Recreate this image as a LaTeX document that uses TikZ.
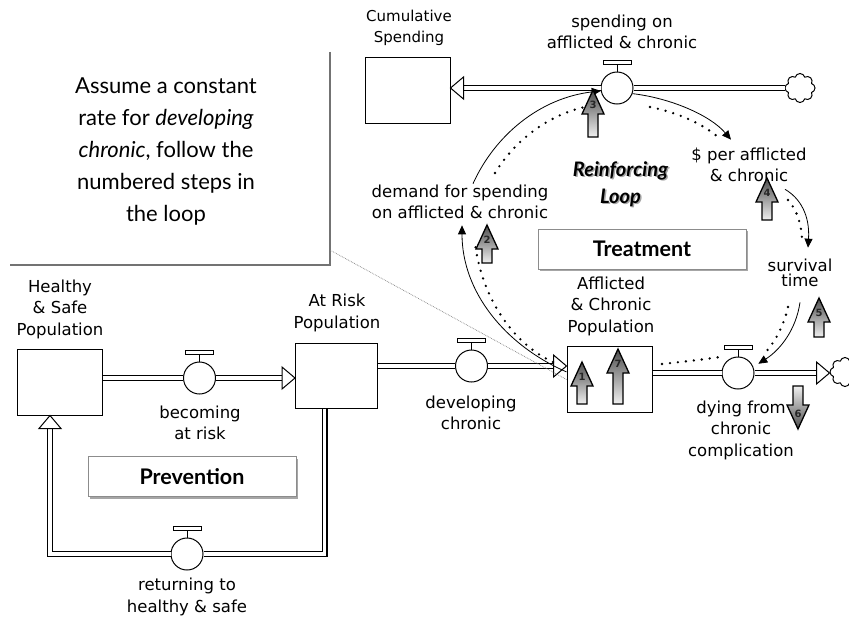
\documentclass[tikz,border=0pt]{standalone}
\usepackage{fontspec}
\setmainfont{DejaVu Sans}
\newfontfamily\gill{Lato}
\usetikzlibrary{calc,shapes.symbols,shadows,arrows.meta}
\begin{document}
\begin{tikzpicture}[x=1pt,y=-1pt,
  lbl/.style={font=\fontsize{16.5}{21.5}\selectfont, align=center, inner sep=1pt},
  stock/.style={draw, line width=1pt, fill=white, minimum width=85pt, minimum height=66pt, inner sep=0},
  valve/.style={draw, circle, line width=1pt, fill=white, minimum size=32pt, inner sep=0},
  pipe/.style={draw, line width=1.2pt, double=white, double distance=3.6pt, line join=miter},
  pipehead/.style={draw, line width=1pt, fill=white, line join=miter},
  link/.style={draw, line width=0.8pt, -{Triangle[length=9pt,width=8pt]}},
  loopdots/.style={draw, line width=2.6pt, line cap=round, dash pattern=on 0pt off 8pt},
  labelbox/.style={draw=black!45, line width=0.8pt, fill=white, minimum width=208pt, minimum height=40pt,
     font=\gill\bfseries\fontsize{21.5}{24}\selectfont,
     drop shadow={shadow xshift=2pt, shadow yshift=-2pt, opacity=0.35, fill=black}},
  cloudy/.style={draw, cloud, cloud puffs=8, aspect=1.05, line width=1pt, fill=white, minimum width=30pt, minimum height=29pt, inner sep=0},
  numtxt/.style={font=\bfseries\fontsize{10}{10}\selectfont, text=black!85, inner sep=0},
  pics/stepup/.style 2 args={code={
    \draw[line width=1.3pt, top color=black!70, bottom color=black!6]
      (-5,0) -- (-5,{-(#1-24)}) -- (-11,{-(#1-24)}) -- (0,-#1) -- (11,{-(#1-24)}) -- (5,{-(#1-24)}) -- (5,0) -- cycle;
    \node[numtxt] (-n) at (0,{-(#1-15)}) {#2};
  }},
  pics/stepdown/.style 2 args={code={
    \draw[line width=1.3pt, top color=black!6, bottom color=black!70]
      (-5,0) -- (-5,{#1-24}) -- (-11,{#1-24}) -- (0,#1) -- (11,{#1-24}) -- (5,{#1-24}) -- (5,0) -- cycle;
    \node[numtxt] (-n) at (0,{#1-15}) {#2};
  }},
]
\path[use as bounding box, fill=white] (0,0) rectangle (849,619);

% note box
\path node[minimum width=328pt, minimum height=213pt, inner sep=0] (note) at (166,158.5) {};
\draw[black!55, line width=2.5pt] (note.north east) -- (note.south east) -- ($(note.south west)+(8,0)$);
\node[align=center, font=\gill\fontsize{22}{32}\selectfont, inner sep=0] (ntext) at (166,151)
  {Assume a constant\\rate for \textit{developing}\\\textit{chronic}, follow the\\numbered steps in\\the loop};

% stocks
\node[stock] (cs) at (407.5,90.5) {};
\node[lbl, font=\fontsize{15}{21}\selectfont] (csl) at (409,28) {Cumulative\\Spending};
\node[stock] (hs) at (59.5,382) {};
\node[lbl] (hsl) at (60,309) {Healthy\\\& Safe\\Population};
\node[stock, minimum width=82pt, minimum height=65pt] (ar) at (336.5,375.5) {};
\node[lbl] (arl) at (337,313) {At Risk\\Population};
\node[stock] (aff) at (609.5,379.5) {};
\node[lbl] (affl) at (611,306) {Afflicted\\\& Chronic\\Population};

% valves
\node[valve] (vsp) at (617,88) {};
\node[lbl] (vspl) at (622,32) {spending on\\afflicted \& chronic};
\node[valve] (vb) at (199.5,378) {};
\node[lbl] (vbl) at (200,423) {becoming\\at risk};
\node[valve] (vd) at (471.5,366) {};
\node[lbl] (vdl) at (471,413) {developing\\chronic};
\node[valve] (vdy) at (738,373) {};
\node[lbl] (vdyl) at (741,430) {dying from\\chronic\\complication};
\node[valve] (vr) at (187,554) {};
\node[lbl] (vrl) at (187,597) {returning to\\healthy \& safe};
\foreach \v in {vsp,vb,vd,vdy,vr}{
  \draw[line width=1pt] (\v.north) -- ++(0,-7);
  \draw[line width=1pt, fill=white] ($(\v.north)+(-14,-7)$) rectangle ($(\v.north)+(14,-11)$);
}

% clouds
\node[cloudy] (cl1) at (800,88) {};
\node[cloudy] (cl2) at (845,372) {};

% pipes
\draw[pipe] (cl1.west |- vsp) -- (vsp.east);
\draw[pipe, shorten >=13pt] (vsp.west) -- (vsp -| cs.east);
\draw[pipehead] (vsp -| cs.east) -- ++(13,-11) -- ++(0,22) -- cycle;

\draw[pipe] (hs.east |- vb) -- (vb.west);
\draw[pipe, shorten >=13pt] (vb.east) -- (vb -| ar.west);
\draw[pipehead] (vb -| ar.west) -- ++(-13,-11) -- ++(0,22) -- cycle;

\draw[pipe] (ar.east |- vd) -- (vd.west);
\draw[pipe, shorten >=13pt] (vd.east) -- (vd -| aff.west);
\draw[pipehead] (vd -| aff.west) -- ++(-13,-11) -- ++(0,22) -- cycle;

\draw[pipe] (aff.east |- vdy) -- (vdy.west);
\draw[pipe, shorten >=13pt] (vdy.east) -- (vdy -| cl2.west);
\draw[pipehead] (vdy -| cl2.west) -- ++(-13,-11) -- ++(0,22) -- cycle;

\draw[pipe] ($(ar.south)+(-12,0)$) |- (vr.east);
\draw[pipe, shorten >=13pt] (vr.west) -| ($(hs.south)+(-9.5,0)$);
\draw[pipehead] ($(hs.south)+(-9.5,0)$) -- ++(-11,13) -- ++(22,0) -- cycle;

% label boxes
\node[labelbox] (prev) at (192,476.5) {Prevention};
\node[labelbox] (treat) at (642,249) {Treatment};

% auxiliaries
\node[lbl] (dem) at (460,202) {demand for spending\\on afflicted \& chronic};
\node[lbl] (dol) at (749,165) {\$ per afflicted\\\& chronic};
\node[lbl, font=\fontsize{16.5}{15.5}\selectfont] (surv) at (800,273) {survival\\time};

% reinforcing loop label
\node[align=center, font=\gill\bfseries\itshape\fontsize{20}{27}\selectfont, text=black!35] (rlsh) at (622,185.5) {Reinforcing\\Loop};
\node[align=center, font=\gill\bfseries\itshape\fontsize{20}{27}\selectfont] (rl) at (620.5,184) {Reinforcing\\Loop};

% dotted pointer from note
\draw[densely dotted, black!50, line width=0.7pt] ($(note.south east)+(0,-15)$) -- (aff.west);

% loop dots
\draw[loopdots] (553,362) .. controls (515,345) and (482,300) .. (475,243);
\draw[loopdots] (495,173) .. controls (515,140) and (550,113) .. (590,106);
\draw[loopdots] (650,107) .. controls (675,112) and (700,122) .. (718,137);
\draw[loopdots] (788,200) .. controls (797,210) and (802,225) .. (802,242);
\draw[loopdots] (788,307) .. controls (784,325) and (775,343) .. (763,355);
\draw[loopdots] (662,364) .. controls (680,362) and (700,360) .. (720,357);

% links
\draw[link] (aff.170) .. controls (505,345) and (462,292) .. ($(dem.south)+(2,5)$);
\draw[link] ($(dem.north)+(13,0)$) .. controls (495,135) and (540,98) .. (vsp.190);
\draw[link] (vsp.-20) .. controls (670,98) and (710,115) .. ($(dol.north)+(-18,-7)$);
\draw[link] ($(dol.south)+(36,6)$) .. controls (800,198) and (810,215) .. ($(surv.north)+(8,-10)$);
\draw[link] ($(surv.south)+(0,14)$) .. controls (796,330) and (780,350) .. ($(vdy.30)+(6,-1)$);

% numbered steps
\pic (s1) at (582,404) {stepup={42}{1}};
\pic (s7) at (618,404) {stepup={55}{7}};
\pic (s2) at (487,263) {stepup={38}{2}};
\pic (s3) at (593,137) {stepup={47}{3}};
\pic (s4) at (767,220) {stepup={42}{4}};
\pic (s5) at (819,337) {stepup={39}{5}};
\pic (s6) at (798,386) {stepdown={43}{6}};
\end{tikzpicture}
\end{document}
